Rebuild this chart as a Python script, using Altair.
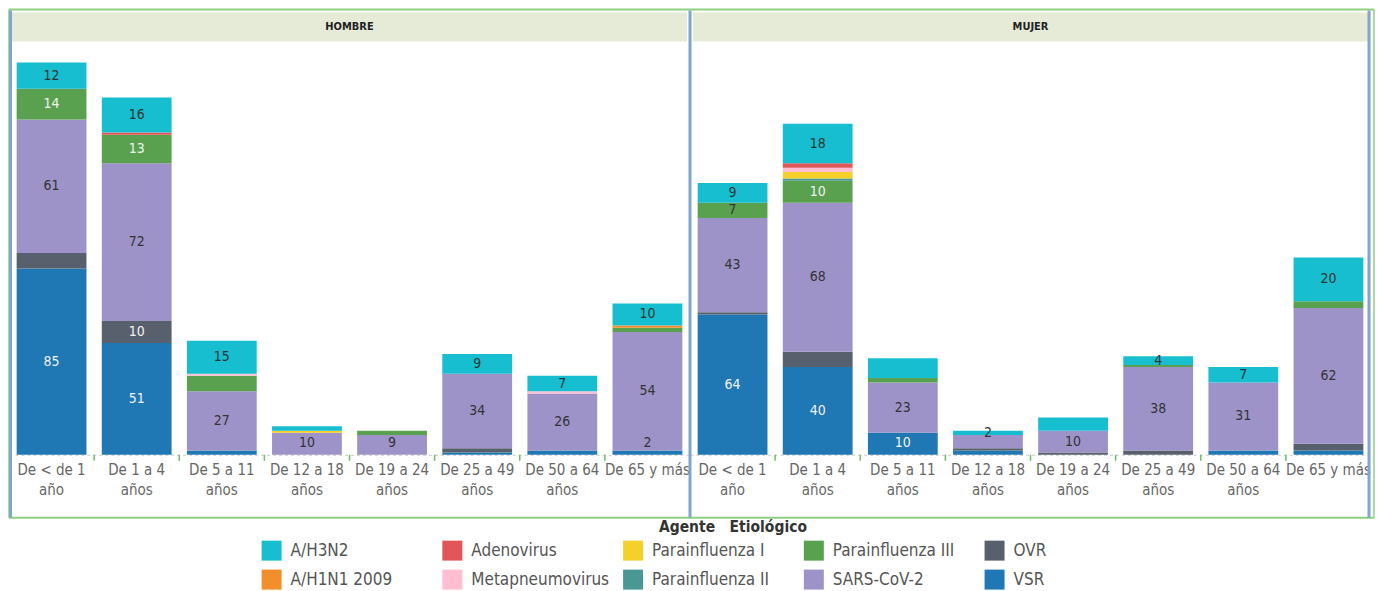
import altair as alt
import pandas as pd

FONT = "DejaVu Sans Condensed, Liberation Sans Narrow, sans-serif"

AGES = ["De < de 1\naño", "De 1 a 4\naños", "De 5 a 11\naños", "De 12 a 18\naños",
        "De 19 a 24\naños", "De 25 a 49\naños", "De 50 a 64\naños", "De 65 y más"]
SEXES = ["HOMBRE", "MUJER"]
LEGEND_TITLE = "Agente\u00a0\u00a0\u00a0Etiológico"

# bottom-to-top stacking order
STACK_ORDER = ["VSR", "OVR", "SARS-CoV-2", "Parainfluenza III", "Parainfluenza II",
               "Parainfluenza I", "Metapneumovirus", "Adenovirus", "A/H1N1 2009", "A/H3N2"]
# legend order (column-major, 5 columns x 2 rows)
LEGEND_ORDER = ["A/H3N2", "A/H1N1 2009", "Adenovirus", "Metapneumovirus", "Parainfluenza I",
                "Parainfluenza II", "Parainfluenza III", "SARS-CoV-2", "OVR", "VSR"]
LEGEND_COLORS = ["#17becf", "#f28e2b", "#e15759", "#ffbed2", "#f5cf2a",
                 "#499894", "#59a14f", "#9d93c8", "#59606d", "#1f77b4"]

# HOMBRE values per agent, by age group
H_VSR = [85, 51, 2, 0, 0, 1, 2, 2]
H_OVR = [7, 10, 0, 0, 0, 2, 0, 0]
H_SARS = [61, 72, 27, 10, 9, 34, 26, 54]
H_PARA3 = [14, 13, 7, 0, 2, 0, 0, 2]
H_PARA2 = [0, 0, 0, 0, 0, 0, 0, 0]
H_PARA1 = [0, 0, 0, 1, 0, 0, 0, 0]
H_METAP = [0, 0, 1, 0, 0, 0, 1, 0]
H_ADENO = [0, 1, 0, 0, 0, 0, 0, 0]
H_H1N1 = [0, 0, 0, 0, 0, 0, 0, 1]
H_H3N2 = [12, 16, 15, 2, 0, 9, 7, 10]

# MUJER values per agent, by age group
M_VSR = [64, 40, 10, 2, 0, 0, 2, 2]
M_OVR = [1, 7, 0, 1, 1, 2, 0, 3]
M_SARS = [43, 68, 23, 6, 10, 38, 31, 62]
M_PARA3 = [7, 10, 2, 0, 0, 1, 0, 3]
M_PARA2 = [0, 1, 0, 0, 0, 0, 0, 0]
M_PARA1 = [0, 3, 0, 0, 0, 0, 0, 0]
M_METAP = [0, 2, 0, 0, 0, 0, 0, 0]
M_ADENO = [0, 2, 0, 0, 0, 0, 0, 0]
M_H1N1 = [0, 0, 0, 0, 0, 0, 0, 0]
M_H3N2 = [9, 18, 9, 2, 6, 4, 7, 20]

# which segments carry a value label (age-group indices)
H_LABELED = {"VSR": [0, 1, 7], "OVR": [1], "SARS-CoV-2": [0, 1, 2, 3, 4, 5, 6, 7],
             "Parainfluenza III": [0, 1], "A/H3N2": [0, 1, 2, 5, 6, 7]}
M_LABELED = {"VSR": [0, 1, 2], "SARS-CoV-2": [0, 1, 2, 4, 5, 6, 7],
             "Parainfluenza III": [0, 1], "A/H3N2": [0, 1, 3, 5, 6, 7]}

SERIES = {
    "HOMBRE": [H_VSR, H_OVR, H_SARS, H_PARA3, H_PARA2, H_PARA1, H_METAP, H_ADENO, H_H1N1, H_H3N2],
    "MUJER": [M_VSR, M_OVR, M_SARS, M_PARA3, M_PARA2, M_PARA1, M_METAP, M_ADENO, M_H1N1, M_H3N2],
}
LABELED = {"HOMBRE": H_LABELED, "MUJER": M_LABELED}

rows = []
for sex in SEXES:
    for k, agent in enumerate(STACK_ORDER):
        vals = SERIES[sex][k]
        for i, age in enumerate(AGES):
            if vals[i] > 0:
                rows.append({"sex": sex, "age": age, "agent": agent, "ord": k,
                             "value": vals[i],
                             "lab": 1 if i in LABELED[sex].get(agent, []) else 0})
df = pd.DataFrame(rows)

PW, PH = 682, 414
YMAX = 188.6
LIFT = 5.5
P_IN, P_OUT = 0.18, 0.09
GAP_HALF = PW / len(AGES) * P_IN / 2   # half the gap between neighbouring bars

color = alt.Color(
    "agent:N",
    scale=alt.Scale(domain=LEGEND_ORDER, range=LEGEND_COLORS),
    legend=alt.Legend(
        title=None, orient="none", legendX=253, legendY=500,
        columns=5, gridAlign="all", symbolType="square", symbolSize=400,
        symbolStrokeWidth=0, symbolOpacity=1, labelFontSize=17, labelColor="#555555",
        labelFont=FONT, rowPadding=9, columnPadding=14, labelOffset=9, labelLimit=300,
    ),
)

xscale = alt.Scale(domain=AGES, paddingInner=P_IN, paddingOuter=P_OUT)
yscale = alt.Scale(domain=[0, YMAX], nice=False, zero=True)
xaxis = alt.Axis(labelExpr="split(datum.label, '\\n')", labelAngle=0,
                 labelFont=FONT, labelFontSize=15, labelColor="#666666",
                 labelLineHeight=20, labelPadding=8, ticks=False,
                 domainColor="#c8c8c8", domainDash=[3, 3], domainWidth=1,
                 labelLimit=200, title=None)


def panel(sex, right):
    d = df[df.sex == sex]
    base = alt.Chart(d).transform_stack(
        stack="value", groupby=["age"], sort=[alt.SortField("ord", "ascending")],
        as_=["y0", "y1"],
    )
    bars = base.mark_bar(stroke=None).encode(
        x=alt.X("age:N", sort=AGES, scale=xscale, axis=xaxis),
        y=alt.Y("y0:Q", scale=yscale, axis=None),
        y2="y1:Q",
        color=color,
    )
    labels = base.transform_filter("datum.lab == 1").transform_calculate(
        ly=f"max((datum.y0 + datum.y1) / 2, {LIFT})",
        light="(datum.agent == 'VSR' || datum.agent == 'OVR' || datum.agent == 'Parainfluenza III') && datum.value >= 10 ? 1 : 0",
    ).mark_text(font=FONT, fontSize=14, baseline="middle").encode(
        x=alt.X("age:N", sort=AGES, scale=xscale, axis=xaxis),
        y=alt.Y("ly:Q", scale=yscale, axis=None),
        text=alt.Text("value:Q"),
        color=alt.condition("datum.light == 1", alt.value("#f2f2f2"), alt.value("#333333")),
    )
    ticks = alt.Chart(pd.DataFrame({"age": AGES[:-1]})).mark_rule(
        color="#6abf5e", strokeWidth=1.5, xOffset=GAP_HALF
    ).encode(
        x=alt.X("age:N", sort=AGES, scale=xscale, bandPosition=1, axis=xaxis),
        y=alt.value(PH), y2=alt.value(PH + 6),
    )
    one = pd.DataFrame({"sex": [sex]})
    header = alt.Chart(one).mark_rect(color="#e6ebd8").encode(
        x=alt.value(3), x2=alt.value(PW - 3), y=alt.value(-29), y2=alt.value(0)
    )
    header_txt = alt.Chart(one).mark_text(
        font=FONT, fontSize=11, fontWeight="bold", color="#222222", baseline="middle"
    ).encode(x=alt.value(PW / 2), y=alt.value(-14), text="sex:N")
    green_h = alt.Chart(pd.DataFrame({"y": [-32, PH + 63]})).mark_rule(
        color="#8fcf80", strokeWidth=2
    ).encode(x=alt.value(0), x2=alt.value(PW + (3 if right else 0)), y=alt.Y("y:Q", scale=None))
    if right:
        bl = [0, PW - 2]
        gv = [PW + 3]
    else:
        bl = [1.5]
        gv = [0]
    blue = alt.Chart(pd.DataFrame({"x": bl})).mark_rule(
        color="#7fa6cf", strokeWidth=3
    ).encode(x=alt.X("x:Q", scale=None), y=alt.value(-31), y2=alt.value(PH + 63))
    green_v = alt.Chart(pd.DataFrame({"x": gv})).mark_rule(
        color="#8fcf80", strokeWidth=1.5
    ).encode(x=alt.X("x:Q", scale=None), y=alt.value(-32), y2=alt.value(PH + 63))
    layers = [header, header_txt, bars, labels, ticks, green_h, green_v, blue]
    if not right:
        legend_title = alt.Chart(pd.DataFrame({"t": [LEGEND_TITLE]})).mark_text(
            font=FONT, fontSize=15.5, fontWeight="bold", color="#333333", baseline="middle"
        ).encode(x=alt.value(725), y=alt.value(PH + 72), text="t:N")
        layers.append(legend_title)
    return alt.layer(*layers).properties(width=PW, height=PH)


chart = alt.hconcat(panel("HOMBRE", False), panel("MUJER", True), spacing=0,
                    bounds="flush").properties(padding=0).configure_view(stroke=None)

chart.save("out.html", embed_options={"renderer": "svg", "actions": False})
